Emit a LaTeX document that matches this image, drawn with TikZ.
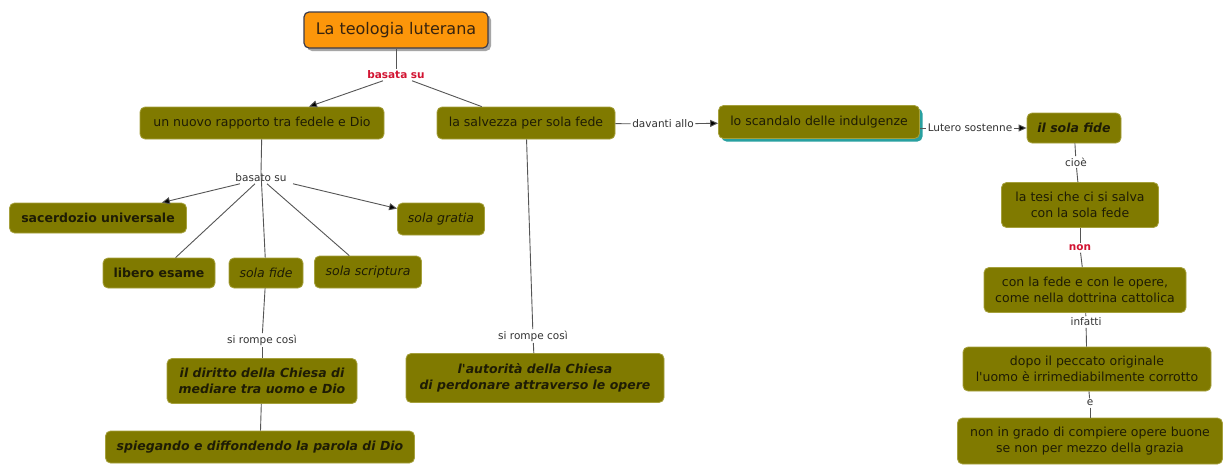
\documentclass[tikz,border=0pt]{standalone}
\usepackage{fontspec}
\setmainfont{DejaVu Sans}
\usetikzlibrary{arrows.meta,calc,shadows}
\definecolor{olivef}{RGB}{128,122,0}
\definecolor{oliveb}{RGB}{165,160,60}
\definecolor{boxtxt}{RGB}{30,28,5}
\definecolor{orangef}{RGB}{252,150,10}
\definecolor{titleb}{RGB}{60,60,75}
\definecolor{titletxt}{RGB}{55,35,15}
\definecolor{lbltxt}{RGB}{50,50,50}
\definecolor{redlbl}{RGB}{210,20,50}
\definecolor{linec}{RGB}{85,85,85}
\definecolor{tealsh}{RGB}{40,160,160}
\begin{document}
\begin{tikzpicture}[x=1pt,y=-1pt,
  box/.style={draw=oliveb, line width=0.8pt, fill=olivef, rounded corners=5pt,
    text=boxtxt, align=center, inner sep=0pt, font=\fontsize{12.5}{16.5}\selectfont},
  bb/.style={box, font=\fontsize{12.5}{16.5}\selectfont\bfseries},
  bi/.style={box, font=\fontsize{12.5}{16.5}\selectfont\bfseries\itshape},
  it/.style={box, font=\fontsize{12.5}{16.5}\selectfont\itshape},
  lbl/.style={text=lbltxt, font=\fontsize{10.5}{12}\selectfont, inner sep=1.5pt},
  rlbl/.style={text=redlbl, font=\fontsize{10.5}{12}\selectfont\bfseries, inner sep=1.5pt},
  conn/.style={draw=linec, line width=0.9pt},
  arr/.style={conn, -{Triangle[length=8pt,width=7pt,fill=black]}}
]
\useasboundingbox[fill=white] (0,0) rectangle (1224,464);

% title
\node[draw=titleb, line width=1.2pt, fill=orangef, rounded corners=5pt, text=titletxt,
  minimum width=184pt, minimum height=36pt, inner sep=0pt,
  drop shadow={shadow xshift=3pt, shadow yshift=-3pt, fill=gray!70, opacity=1},
  font=\fontsize{16}{19}\selectfont] (t) at (396,30) {La teologia luterana};
\node[rlbl] (l1) at (396,75) {basata su};

% main nodes
\node[box, minimum width=244pt, minimum height=32pt] (n1) at (262,123) {un nuovo rapporto tra fedele e Dio};
\node[box, minimum width=178pt, minimum height=32pt] (n2) at (526,123) {la salvezza per sola fede};
\node[lbl] (dav) at (663,124) {davanti allo};
\node[box, minimum width=201pt, minimum height=33pt,
  drop shadow={shadow xshift=3pt, shadow yshift=-3pt, fill=tealsh, opacity=1}] (n3) at (819,122) {lo scandalo delle indulgenze};
\node[lbl] (lut) at (970,128) {Lutero sostenne};
\node[bi, minimum width=94pt, minimum height=30pt] (n4) at (1074,128) {il sola fide};
\node[lbl] (cio) at (1076,162) {cioè};
\node[box, minimum width=157pt, minimum height=45pt] (n5) at (1080,205) {la tesi che ci si salva\\con la sola fede};
\node[rlbl] (non) at (1080,248) {non};
\node[box, minimum width=202pt, minimum height=45pt] (n6) at (1085,290) {con la fede e con le opere,\\come nella dottrina cattolica};
\node[lbl] (inf) at (1086,322) {infatti};
\node[box, minimum width=248pt, minimum height=44pt] (n7) at (1087,369) {dopo il peccato originale\\l\textquotesingle uomo è irrimediabilmente corrotto};
\node[lbl] (e) at (1090,403) {e};
\node[box, minimum width=265pt, minimum height=46pt] (n8) at (1090,441) {non in grado di compiere opere buone\\se non per mezzo della grazia};

% left subtree
\node[lbl] (b2) at (261,178) {basato su};
\node[bb, minimum width=177pt, minimum height=30pt] (n9) at (98,218) {sacerdozio universale};
\node[it, minimum width=87pt, minimum height=32pt] (n10) at (441,219) {sola gratia};
\node[bb, minimum width=112pt, minimum height=30pt] (n11) at (159,273) {libero esame};
\node[it, minimum width=74pt, minimum height=30pt] (n12) at (266,273) {sola fide};
\node[it, minimum width=107pt, minimum height=32pt] (n13) at (368,272) {sola scriptura};
\node[lbl] (sr1) at (262,340) {si rompe così};
\node[bi, minimum width=190pt, minimum height=45pt] (n14) at (262,381) {il diritto della Chiesa di\\mediare tra uomo e Dio};
\node[bi, minimum width=309pt, minimum height=32pt] (n15) at (260,447) {spiegando e diffondendo la parola di Dio};
\node[lbl] (sr2) at (533,336) {si rompe così};
\node[bi, minimum width=258pt, minimum height=49pt] (n16) at (535,378) {l\textquotesingle autorità della Chiesa\\di perdonare attraverso le opere};

% connectors
\draw[conn] (t) -- (l1);
\draw[arr] ($(l1.south)+(-13,0)$) -- (n1);
\draw[conn] ($(l1.south)+(16,0)$) -- (n2);

\draw[conn] (n1) -- (b2.north);
\draw[conn] (b2.north) -- (n12);
\draw[arr] ($(b2.south)+(-21,0)$) -- (n9);
\draw[conn] ($(b2.south)+(-6,0)$) -- (n11);
\draw[conn] ($(b2.south)+(6,0)$) -- (n13);
\draw[arr] ($(b2.south)+(32,0)$) -- (n10);

\draw[conn] (n12) -- (sr1);
\draw[conn] (sr1) -- (n14);
\draw[conn] (n14) -- (n15);

\draw[conn] (n2) -- (sr2);
\draw[conn] (sr2) -- (n16);

\draw[conn] (n2) -- (dav);
\draw[arr] (dav) -- (n3);
\draw[conn] (n3.east |- lut) -- (lut);
\draw[arr] (lut) -- (n4);

\draw[conn] (n4) -- (cio);
\draw[conn] (cio) -- (n5);
\draw[conn] (n5) -- (non);
\draw[conn] (non) -- (n6);
\draw[conn] (n6) -- (inf);
\draw[conn] (inf) -- (n7);
\draw[conn] (n7) -- (e);
\draw[conn] (e) -- (n8);
\end{tikzpicture}
\end{document}
